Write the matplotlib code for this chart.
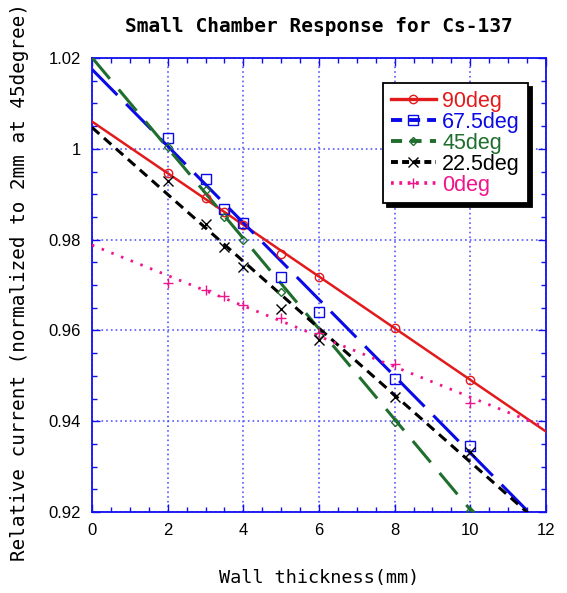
import matplotlib
matplotlib.use('Agg')
import matplotlib.pyplot as plt
import numpy as np
from matplotlib.ticker import MultipleLocator, FuncFormatter

plt.rcParams['lines.scale_dashes'] = False

# ---- data ----
thickness = [2, 3, 3.5, 4, 5, 6, 8, 10]
labels = ['90deg', '67.5deg', '45deg', '22.5deg', '0deg']
resp_90 = [0.9947, 0.9892, 0.9861, 0.9832, 0.9768, 0.9718, 0.9605, 0.9491]
resp_675 = [1.0023, 0.9933, 0.9867, 0.9836, 0.9718, 0.9641, 0.9493, 0.9346]
resp_45 = [1.0005, 0.9909, 0.9850, 0.9799, 0.9685, 0.9590, 0.9399, 0.9202]
resp_225 = [0.9929, 0.9834, 0.9784, 0.9740, 0.9647, 0.9579, 0.9454, 0.9333]
resp_0 = [0.9705, 0.9689, 0.9676, 0.9655, 0.9627, 0.9594, 0.9525, 0.9441]
fit_intercept = [1.0060, 1.0175, 1.0201, 1.0047, 0.9788]
fit_slope = [-0.00569, -0.00845, -0.00996, -0.00737, -0.00335]
fit_range = [0, 12]
xticks = [0, 2, 4, 6, 8, 10, 12]
yticks = [0.92, 0.94, 0.96, 0.98, 1.00, 1.02]

series = [resp_90, resp_675, resp_45, resp_225, resp_0]
colors = ['#e31a1c', '#0a0ae6', '#1f6e2e', '#000000', '#f0148c']
markers = ['o', 's', 'D', 'x', '+']
msizes = [6, 7, 4.5, 7, 7]
lws = [1.8, 2.2, 2.2, 2.2, 2.0]
styles = ['-', (0, (26, 9)), (0, (20, 10)), (0, (7, 4.5)), (0, (1.8, 5.7))]
leg_styles = ['-', (0, (8, 5)), (0, (8, 6)), (0, (5, 3)), (0, (2, 4))]

fig = plt.figure(figsize=(5.67, 5.93), dpi=100)
ax = fig.add_axes([92/567, 1-512/593, 454/567, 454/593])

xf = np.array(fit_range, dtype=float)
for ys, b, m, c, mk, ms, lw, ls, lls, lab in zip(series, fit_intercept, fit_slope, colors,
                                                  markers, msizes, lws, styles, leg_styles,
                                                  labels):
    ax.plot(xf, b + m * xf, color=c, lw=lw, linestyle=ls, zorder=3)
    ax.plot(thickness, ys, linestyle='none', marker=mk, ms=ms, mfc='none',
            mec=c, mew=1.0, zorder=4)
    ax.plot([], [], color=c, lw=lw + 0.6, linestyle=lls, marker=mk, ms=ms,
            mfc='none', mec=c, mew=1.0, label=lab)

ax.set_xlim(0, 12)
ax.set_ylim(0.92, 1.02)
ax.set_xticks(xticks)
ax.set_yticks(yticks)
ax.xaxis.set_minor_locator(MultipleLocator(0.5))
ax.yaxis.set_minor_locator(MultipleLocator(0.005))
ax.yaxis.set_major_formatter(FuncFormatter(lambda v, p: f'{round(v, 4):g}'))
ax.xaxis.set_major_formatter(FuncFormatter(lambda v, p: f'{v:g}'))

ax.grid(True, which='major', color='#4a4aff', linestyle=(0, (1.2, 2.2)), lw=1.1)
for s in ax.spines.values():
    s.set_color('#1010ee')
    s.set_linewidth(1.3)
ax.tick_params(which='both', direction='in', top=True, right=True, color='#1010ee',
               labelcolor='black', labelsize=12)
ax.tick_params(which='major', length=6, width=1.0, pad=8)
ax.tick_params(which='minor', length=3.5, width=1.0)
for t in ax.get_xticklabels() + ax.get_yticklabels():
    t.set_fontfamily('Liberation Sans')

leg = ax.legend(loc='upper left', bbox_to_anchor=(0.641, 0.945), borderaxespad=0,
                prop={'family': 'Liberation Sans', 'size': 15.5}, labelcolor='linecolor',
                numpoints=1, handlelength=2.1, handletextpad=0.3, labelspacing=0.0,
                borderpad=0.35, fancybox=False, frameon=True,
                shadow={'color': 'black', 'alpha': 1.0, 'ox': 3, 'oy': -3})
leg.get_frame().set_edgecolor('black')
leg.get_frame().set_linewidth(1.3)

fig.text(0.5 * (92 + 546) / 567, 1 - 27/593, 'Small Chamber Response for Cs-137',
         ha='center', va='center', fontsize=14, fontweight='bold',
         family='DejaVu Sans Mono')
fig.text(0.5 * (92 + 546) / 567, 1 - 578/593, 'Wall thickness(mm)',
         ha='center', va='center', fontsize=13.3, family='DejaVu Sans Mono')
fig.text(20/567, 1 - 282/593, 'Relative current (normalized to 2mm at 45degree)',
         ha='center', va='center', rotation=90, fontsize=13.9,
         family='DejaVu Sans Mono')

fig.savefig('out.png', dpi=100)
